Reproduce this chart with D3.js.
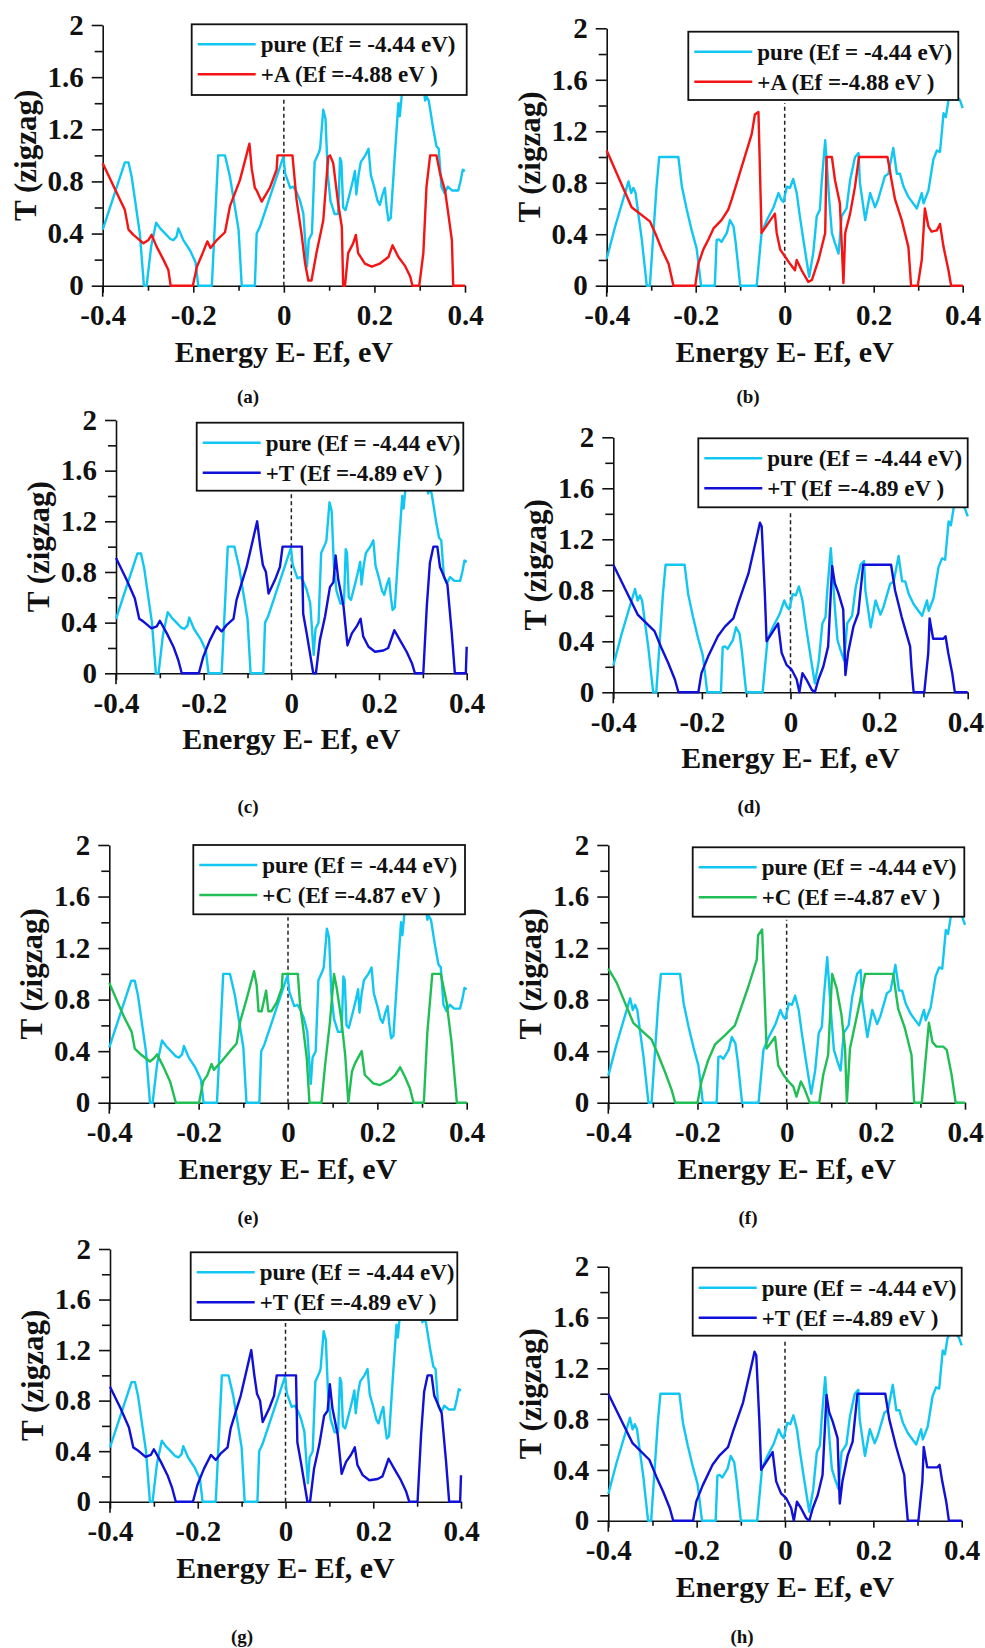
<!DOCTYPE html>
<html>
<head>
<meta charset="utf-8">
<script src="https://cdn.jsdelivr.net/npm/d3@7"></script>
<style>
  body { margin: 0; background: #fff; }
  svg { display: block; }
</style>
</head>
<body>
<script>
// axis ticks
var xTicks = [-0.4, -0.2, 0, 0.2, 0.4];
var xMinor = [-0.3, -0.1, 0.1, 0.3];
var yTicks = [0, 0.4, 0.8, 1.2, 1.6, 2];
var yMinor = [0.2, 0.6, 1.0, 1.4, 1.8];

// pure ribbon, left column (a, c, e, g)
var pureLeft = [[-0.4,0.43],[-0.351,0.946],[-0.343,0.946],[-0.336,0.836],[-0.318,0.40],[-0.309,0],[-0.303,0],
  [-0.293,0.30],[-0.282,0.483],[-0.273,0.44],[-0.262,0.40],[-0.251,0.36],[-0.244,0.35],[-0.237,0.376],[-0.233,0.44],
  [-0.222,0.35],[-0.207,0.27],[-0.195,0.18],[-0.189,0],[-0.159,0],[-0.145,1.0],[-0.130,1.0],[-0.119,0.836],[-0.1,0.43],
  [-0.093,0],[-0.064,0],[-0.060,0.40],[-0.053,0.45],[-0.001,0.99],[0.003,0.86],[0.014,0.75],[0.021,0.76],[0.028,0.72],
  [0.035,0.66],[0.043,0.555],[0.051,0.146],[0.055,0.35],[0.062,0.40],[0.068,0.95],[0.077,1.02],[0.080,1.05],[0.087,1.35],
  [0.092,1.28],[0.097,0.85],[0.103,0.65],[0.112,0.55],[0.12,0.55],[0.124,0.98],[0.127,0.95],[0.131,0.60],[0.136,0.58],
  [0.145,0.70],[0.152,0.80],[0.157,0.88],[0.160,0.70],[0.165,0.85],[0.17,0.95],[0.18,1.0],[0.187,1.05],[0.192,0.85],
  [0.2,0.75],[0.207,0.65],[0.212,0.62],[0.218,0.70],[0.223,0.75],[0.227,0.60],[0.231,0.50],[0.236,0.52],[0.245,1.0],
  [0.253,1.40],[0.256,1.30],[0.26,1.45],[0.27,1.7],[0.29,1.8],[0.305,1.6],[0.312,1.42],[0.315,1.45],[0.32,1.42],
  [0.33,1.2],[0.337,1.07],[0.342,1.05],[0.348,0.76],[0.355,0.71],[0.362,0.76],[0.372,0.73],[0.385,0.73],[0.39,0.80],
  [0.395,0.89],[0.4,0.88]];

// pure ribbon, right column (b, d, f, h)
var pureRight = [[-0.4,0.21],[-0.381,0.46],[-0.351,0.81],[-0.345,0.72],[-0.340,0.76],[-0.335,0.72],[-0.329,0.56],
  [-0.321,0.355],[-0.310,0],[-0.303,0],[-0.295,0.41],[-0.288,0.77],[-0.282,1.0],[-0.239,1.0],[-0.231,0.77],[-0.220,0.59],
  [-0.209,0.43],[-0.198,0.29],[-0.193,0.15],[-0.188,0],[-0.157,0],[-0.153,0.355],[-0.148,0.36],[-0.142,0.34],
  [-0.130,0.41],[-0.123,0.51],[-0.115,0.46],[-0.110,0.33],[-0.100,0],[-0.063,0],[-0.052,0.41],[-0.040,0.51],
  [-0.025,0.61],[-0.014,0.72],[-0.008,0.67],[-0.003,0.65],[0.005,0.77],[0.012,0.76],[0.019,0.83],[0.027,0.72],
  [0.034,0.54],[0.042,0.355],[0.049,0.2],[0.055,0.07],[0.064,0.25],[0.072,0.54],[0.079,0.59],[0.083,0.80],[0.091,1.13],
  [0.094,0.98],[0.100,0.67],[0.106,0.41],[0.113,0.33],[0.121,0.25],[0.128,0.54],[0.139,0.60],[0.147,0.82],[0.158,1.0],
  [0.166,1.03],[0.169,0.8],[0.181,0.51],[0.192,0.72],[0.203,0.61],[0.210,0.67],[0.225,0.85],[0.233,0.87],[0.244,1.07],
  [0.252,0.87],[0.259,0.87],[0.267,0.77],[0.278,0.69],[0.297,0.60],[0.308,0.72],[0.312,0.64],[0.323,0.74],[0.334,0.98],
  [0.342,1.05],[0.349,1.04],[0.357,1.34],[0.362,1.31],[0.368,1.44],[0.379,1.50],[0.394,1.44],[0.4,1.38]];

// +A, left (a) and right (b)
var dopedA_left = [[-0.4,0.94],[-0.351,0.58],[-0.343,0.43],[-0.332,0.39],[-0.310,0.325],[-0.299,0.35],[-0.292,0.39],
  [-0.281,0.30],[-0.266,0.20],[-0.255,0.12],[-0.250,0],[-0.201,0],[-0.192,0.146],[-0.181,0.235],[-0.169,0.34],
  [-0.162,0.29],[-0.148,0.35],[-0.130,0.41],[-0.119,0.61],[-0.097,0.81],[-0.076,1.09],[-0.071,0.90],[-0.064,0.75],
  [-0.060,0.73],[-0.049,0.645],[-0.031,0.75],[-0.016,0.89],[-0.014,1.0],[0.019,1.0],[0.028,0.66],[0.039,0.40],
  [0.047,0.17],[0.054,0.04],[0.061,0.04],[0.072,0.25],[0.087,0.50],[0.098,0.99],[0.102,1.0],[0.109,0.94],[0.120,0.63],
  [0.128,0.45],[0.131,0],[0.135,0],[0.142,0.25],[0.153,0.325],[0.159,0.39],[0.164,0.25],[0.179,0.17],[0.194,0.146],
  [0.212,0.17],[0.231,0.22],[0.240,0.31],[0.253,0.22],[0.268,0.15],[0.279,0.07],[0.284,0],[0.299,0],[0.308,0.25],
  [0.315,0.76],[0.323,1.0],[0.337,1.0],[0.345,0.86],[0.356,0.73],[0.363,0.555],[0.371,0.35],[0.374,0],[0.4,0]];
var dopedA_right = [[-0.4,1.05],[-0.344,0.61],[-0.303,0.50],[-0.291,0.41],[-0.276,0.28],[-0.261,0.17],[-0.250,0],
  [-0.201,0],[-0.194,0.17],[-0.183,0.28],[-0.172,0.355],[-0.160,0.445],[-0.142,0.51],[-0.127,0.59],[-0.119,0.67],
  [-0.097,0.92],[-0.074,1.18],[-0.067,1.33],[-0.059,1.35],[-0.052,0.41],[-0.022,0.56],[-0.018,0.41],[-0.010,0.28],
  [0.001,0.225],[0.012,0.17],[0.023,0.12],[0.027,0.2],[0.038,0.12],[0.053,0.03],[0.061,0.044],[0.076,0.2],[0.091,0.41],
  [0.094,1.0],[0.106,1.0],[0.113,0.82],[0.124,0.64],[0.132,0.02],[0.136,0.41],[0.147,0.56],[0.158,0.77],[0.167,1.0],
  [0.231,1.0],[0.240,0.82],[0.248,0.67],[0.263,0.51],[0.278,0.30],[0.284,0],[0.299,0],[0.308,0.2],[0.315,0.60],
  [0.323,0.46],[0.330,0.42],[0.342,0.43],[0.349,0.48],[0.357,0.30],[0.368,0.12],[0.374,0],[0.4,0]];

// +T, left (c, g) and right (d, h)
var dopedT_left = [[-0.4,0.91],[-0.376,0.74],[-0.357,0.59],[-0.347,0.43],[-0.338,0.41],[-0.319,0.355],[-0.307,0.37],
  [-0.300,0.415],[-0.284,0.315],[-0.269,0.21],[-0.258,0.105],[-0.250,0],[-0.211,0],[-0.201,0.13],[-0.186,0.26],
  [-0.170,0.37],[-0.159,0.33],[-0.148,0.38],[-0.132,0.43],[-0.125,0.58],[-0.102,0.84],[-0.078,1.2],[-0.071,1.0],
  [-0.065,0.855],[-0.058,0.80],[-0.052,0.63],[-0.037,0.74],[-0.026,0.84],[-0.020,1.0],[0.024,1.0],[0.027,0.47],
  [0.035,0.315],[0.050,0],[0.056,0],[0.065,0.26],[0.077,0.45],[0.088,0.68],[0.096,0.72],[0.101,0.93],[0.107,0.74],
  [0.119,0.53],[0.128,0.22],[0.138,0.315],[0.149,0.37],[0.158,0.43],[0.164,0.29],[0.176,0.21],[0.191,0.17],
  [0.210,0.18],[0.221,0.2],[0.235,0.34],[0.248,0.26],[0.263,0.17],[0.275,0.08],[0.282,0],[0.301,0],[0.309,0.53],
  [0.316,0.87],[0.324,1.0],[0.333,1.0],[0.339,0.84],[0.356,0.70],[0.366,0.315],[0.373,0],[0.398,0],[0.4,0.21]];
var dopedT_right = [[-0.4,1.0],[-0.345,0.61],[-0.307,0.48],[-0.291,0.345],[-0.276,0.23],[-0.261,0.1],[-0.253,0],
  [-0.208,0],[-0.201,0.15],[-0.186,0.28],[-0.164,0.44],[-0.148,0.515],[-0.129,0.58],[-0.118,0.70],[-0.095,0.93],
  [-0.076,1.22],[-0.069,1.33],[-0.065,1.3],[-0.058,0.78],[-0.054,0.40],[-0.028,0.54],[-0.020,0.31],[-0.009,0.215],
  [0.003,0.175],[0.014,0.1],[0.020,0],[0.027,0.15],[0.036,0.1],[0.048,0.02],[0.055,0],[0.063,0.1],[0.074,0.2],
  [0.085,0.36],[0.094,0.99],[0.100,0.855],[0.108,0.78],[0.119,0.65],[0.124,0.135],[0.130,0.31],[0.142,0.515],
  [0.153,0.62],[0.164,1.0],[0.227,1.0],[0.236,0.80],[0.251,0.59],[0.270,0.36],[0.273,0.2],[0.278,0],[0.302,0],
  [0.311,0.31],[0.314,0.58],[0.322,0.42],[0.345,0.42],[0.350,0.44],[0.356,0.31],[0.365,0.15],[0.371,0],[0.4,0]];

// +C, left (e) and right (f)
var dopedC_left = [[-0.4,0.93],[-0.369,0.68],[-0.350,0.55],[-0.343,0.42],[-0.328,0.37],[-0.309,0.32],[-0.300,0.345],
  [-0.293,0.375],[-0.279,0.28],[-0.264,0.165],[-0.251,0],[-0.199,0],[-0.190,0.165],[-0.181,0.21],[-0.171,0.30],
  [-0.166,0.255],[-0.149,0.32],[-0.130,0.40],[-0.115,0.46],[-0.107,0.63],[-0.093,0.80],[-0.076,1.02],[-0.070,0.91],
  [-0.066,0.71],[-0.059,0.71],[-0.049,0.87],[-0.044,0.71],[-0.037,0.71],[-0.025,0.78],[-0.014,0.89],[-0.012,1.0],
  [0.022,1.0],[0.027,0.76],[0.034,0.58],[0.042,0.345],[0.048,0],[0.075,0],[0.083,0.29],[0.094,0.63],[0.103,1.0],
  [0.109,0.89],[0.120,0.63],[0.128,0.37],[0.135,0],[0.143,0.24],[0.150,0.305],[0.165,0.40],[0.172,0.215],
  [0.191,0.15],[0.206,0.137],[0.228,0.176],[0.240,0.215],[0.251,0.275],[0.262,0.2],[0.273,0.11],[0.281,0],
  [0.304,0],[0.312,0.55],[0.323,1.0],[0.342,1.0],[0.355,0.78],[0.366,0.47],[0.378,0],[0.4,0]];
var dopedC_right = [[-0.4,1.04],[-0.381,0.93],[-0.344,0.62],[-0.303,0.49],[-0.288,0.37],[-0.273,0.24],[-0.258,0.1],
  [-0.250,0],[-0.200,0],[-0.191,0.165],[-0.176,0.33],[-0.161,0.45],[-0.138,0.525],[-0.116,0.60],[-0.108,0.68],
  [-0.086,0.90],[-0.067,1.11],[-0.064,1.30],[-0.055,1.345],[-0.045,0.42],[-0.026,0.51],[-0.019,0.29],[-0.007,0.215],
  [0.004,0.165],[0.015,0.125],[0.022,0.047],[0.032,0.165],[0.041,0.1],[0.052,0],[0.073,0],[0.082,0.215],[0.093,0.37],
  [0.102,1.0],[0.112,0.89],[0.123,0.68],[0.131,0.42],[0.135,0],[0.142,0.42],[0.153,0.60],[0.164,0.78],[0.176,1.0],
  [0.239,1.0],[0.250,0.73],[0.265,0.58],[0.280,0.37],[0.286,0],[0.303,0],[0.310,0.27],[0.319,0.62],[0.327,0.47],
  [0.336,0.435],[0.351,0.435],[0.359,0.41],[0.370,0.215],[0.379,0],[0.4,0]];

var pureLabel = "pure (Ef = -4.44 eV)";
var colors = { pure: "#12c6f2", A: "#f41414", T: "#1010d8", C: "#1fbf55" };

var panels = [
  { tag: "(a)", box: [102.7, 465, 25, 285.7],    leg: [191.7, 24.3, 275, 70.7],    cap: [248, 397],  pure: pureLeft,  dop: dopedA_left,  col: colors.A, name: "+A (Ef =-4.88 eV )" },
  { tag: "(b)", box: [606.7, 962.7, 28.3, 285.7], leg: [688.3, 31.7, 270, 68.3],    cap: [748, 397],  pure: pureRight, dop: dopedA_right, col: colors.A, name: "+A (Ef =-4.88 eV )" },
  { tag: "(c)", box: [116, 466.7, 420, 673.3],    leg: [196.7, 422.7, 266.6, 68],   cap: [248, 807],  pure: pureLeft,  dop: dopedT_left,  col: colors.T, name: "+T (Ef =-4.89 eV )" },
  { tag: "(d)", box: [613.3, 967.7, 437.3, 692.3], leg: [698.3, 438.3, 269.4, 69],  cap: [749, 807],  pure: pureRight, dop: dopedT_right, col: colors.T, name: "+T (Ef =-4.89 eV )" },
  { tag: "(e)", box: [109.3, 466.7, 845, 1102.7], leg: [193.3, 845, 271.7, 69.3],   cap: [248, 1218], pure: pureLeft,  dop: dopedC_left,  col: colors.C, name: "+C (Ef =-4.87 eV )" },
  { tag: "(f)", box: [608.3, 965, 845, 1102.7],   leg: [692.7, 847.3, 271.6, 69.4], cap: [748, 1218], pure: pureRight, dop: dopedC_right, col: colors.C, name: "+C (Ef =-4.87 eV )" },
  { tag: "(g)", box: [110, 461, 1249, 1501.7],    leg: [190.7, 1252.3, 266.6, 67.7], cap: [242, 1637], pure: pureLeft,  dop: dopedT_left,  col: colors.T, name: "+T (Ef =-4.89 eV )" },
  { tag: "(h)", box: [608.3, 961.7, 1266.7, 1520.7], leg: [692.7, 1267.7, 269, 68], cap: [742, 1637], pure: pureRight, dop: dopedT_right, col: colors.T, name: "+T (Ef =-4.89 eV )" }
];

var font = "'Liberation Serif', 'Times New Roman', serif";
var W = 985;

var svg = d3.select("body").append("svg")
    .attr("width", W)
    .attr("height", 1648)
    .style("font-family", font);

panels.forEach(function(p) {
    var x = d3.scaleLinear().domain([-0.4, 0.4]).range([p.box[0], p.box[1]]);
    var y = d3.scaleLinear().domain([0, 2]).range([p.box[3], p.box[2]]);
    var g = svg.append("g");

    // minor ticks
    g.append("g")
        .attr("transform", "translate(0," + y(0) + ")")
        .call(d3.axisBottom(x).tickValues(xMinor).tickSize(5).tickFormat(""))
        .call(function(a) { a.select(".domain").remove(); });
    g.append("g")
        .attr("transform", "translate(" + x(-0.4) + ",0)")
        .call(d3.axisLeft(y).tickValues(yMinor).tickSize(8).tickFormat(""))
        .call(function(a) { a.select(".domain").remove(); });

    // main axes
    var xa = g.append("g")
        .attr("transform", "translate(0," + y(0) + ")")
        .call(d3.axisBottom(x).tickValues(xTicks).tickSize(7).tickSizeOuter(0).tickPadding(12)
              .tickFormat(function(d) { return String(d); }));
    var ya = g.append("g")
        .attr("transform", "translate(" + x(-0.4) + ",0)")
        .call(d3.axisLeft(y).tickValues(yTicks).tickSize(11).tickSizeOuter(0).tickPadding(8)
              .tickFormat(function(d) { return String(d); }));
    // the left spine runs a little below the zero line
    g.append("line")
        .attr("x1", x(-0.4)).attr("x2", x(-0.4))
        .attr("y1", y(0)).attr("y2", y(0) + 11)
        .attr("stroke", "#111").attr("stroke-width", 1.6);

    [xa, ya].forEach(function(a) {
        a.selectAll("path, line").attr("stroke", "#111").attr("stroke-width", 1.6);
        a.selectAll("text")
            .attr("fill", "#111")
            .style("font-family", font)
            .style("font-weight", "bold")
            .style("font-size", "29px");
    });
    g.selectAll(".tick line").attr("stroke", "#111").attr("stroke-width", 1.6);

    // keep the last x label inside the page
    xa.selectAll(".tick text").each(function() {
        var b = this.getBBox();
        var tr = this.parentNode.getAttribute("transform");
        var tx = +tr.match(/translate\(([-\d.]+)/)[1];
        var over = tx + b.x + b.width - (W - 1);
        if (over > 0) d3.select(this).attr("x", -over);
    });

    // axis titles
    g.append("text")
        .attr("x", (p.box[0] + p.box[1]) / 2)
        .attr("y", y(0) + 76)
        .attr("text-anchor", "middle")
        .style("font-weight", "bold")
        .style("font-size", "30px")
        .attr("fill", "#111")
        .text("Energy E- Ef, eV");
    g.append("text")
        .attr("transform", "translate(" + (x(-0.4) - 67) + "," + ((p.box[2] + p.box[3]) / 2) + ") rotate(-90)")
        .attr("text-anchor", "middle")
        .style("font-weight", "bold")
        .style("font-size", "31px")
        .attr("fill", "#111")
        .text("T (zigzag)");

    // Fermi level marker
    g.append("line")
        .attr("x1", x(0)).attr("x2", x(0))
        .attr("y1", y(0)).attr("y2", p.leg[1] + p.leg[3] + 3)
        .attr("stroke", "#222")
        .attr("stroke-width", 1.5)
        .attr("stroke-dasharray", "4,3");

    var line = d3.line()
        .x(function(d) { return x(d[0]); })
        .y(function(d) { return y(d[1]); });

    g.append("path")
        .datum(p.pure)
        .attr("fill", "none")
        .attr("stroke", colors.pure)
        .attr("stroke-width", 2.4)
        .attr("stroke-linejoin", "round")
        .attr("d", line);

    g.append("path")
        .datum(p.dop)
        .attr("fill", "none")
        .attr("stroke", p.col)
        .attr("stroke-width", 2.4)
        .attr("stroke-linejoin", "round")
        .attr("d", line);

    // legend
    var lg = g.append("g").attr("transform", "translate(" + p.leg[0] + "," + p.leg[1] + ")");
    lg.append("rect")
        .attr("width", p.leg[2])
        .attr("height", p.leg[3])
        .attr("fill", "#fff")
        .attr("stroke", "#111")
        .attr("stroke-width", 1.8);
    var rows = [[pureLabel, colors.pure], [p.name, p.col]];
    rows.forEach(function(r, i) {
        var cy = 20 + i * 30;
        lg.append("line")
            .attr("x1", 6).attr("x2", 64)
            .attr("y1", cy).attr("y2", cy)
            .attr("stroke", r[1])
            .attr("stroke-width", 2.4);
        lg.append("text")
            .attr("x", 69)
            .attr("y", cy + 8)
            .style("font-weight", "bold")
            .style("font-size", "23px")
            .attr("fill", "#111")
            .text(r[0]);
    });

    // caption
    svg.append("text")
        .attr("x", p.cap[0])
        .attr("y", p.cap[1] + 6)
        .attr("text-anchor", "middle")
        .style("font-size", "19px")
        .style("font-weight", "bold")
        .attr("fill", "#111")
        .text(p.tag);
});
</script>
</body>
</html>
